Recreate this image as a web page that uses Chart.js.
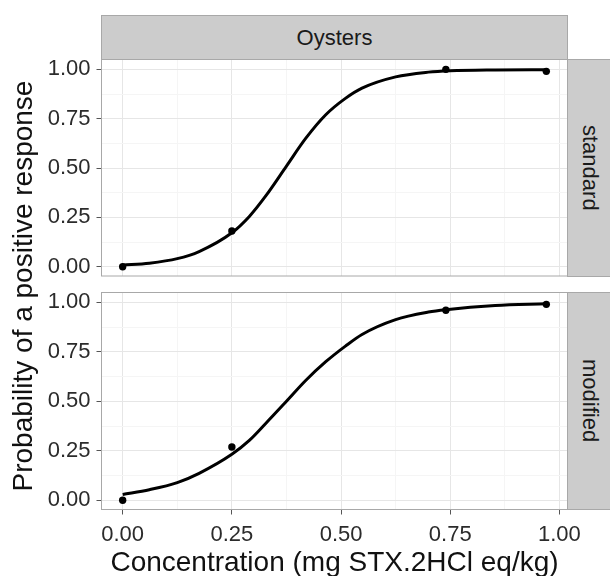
<!DOCTYPE html>
<html>
<head>
<meta charset="utf-8">
<script src="https://cdn.jsdelivr.net/npm/chart.js@4.4.1/dist/chart.umd.min.js"></script>
<style>
  html, body { margin: 0; padding: 0; background: #fff; }
  #wrap { position: relative; width: 610px; height: 576px; overflow: hidden; font-family: "Liberation Sans", Arial, sans-serif; }
  canvas { position: absolute; left: 0; }
  .strip { position: absolute; box-sizing: border-box; background: #cccccc; border: 1px solid #a8a8a8;
           display: flex; align-items: center; justify-content: center; color: #1a1a1a; font-size: 22px; }
  .strip.side { writing-mode: vertical-rl; }
  .title { position: absolute; color: #111; font-size: 28px; line-height: 28px; text-align: center; white-space: nowrap; }
</style>
</head>
<body>
<div id="wrap">
  <canvas id="standard-chart" width="610" height="225" style="top:55px"></canvas>
  <canvas id="modified-chart" width="610" height="288" style="top:288px"></canvas>
  <div class="strip" id="col-strip" style="left:101px; top:15px; width:467px; height:45px;"></div>
  <div class="strip side" id="row-strip-0" style="left:567px; top:59px; width:46px; height:218px;"></div>
  <div class="strip side" id="row-strip-1" style="left:567px; top:292px; width:46px; height:218px;"></div>
  <div class="title" id="x-title" style="left:101px; top:548px; width:467px;"></div>
  <div class="title" id="y-title" style="left:-202px; top:272px; width:450px; height:28px; transform:rotate(-90deg);"></div>
</div>
<script>
// facets and titles
const facetColumn = 'Oysters';
const facetRows = ['standard', 'modified'];
const xTitle = 'Concentration (mg STX.2HCl eq/kg)';
const yTitle = 'Probability of a positive response';

// observed points
const concentrations = [0, 0.25, 0.74, 0.97];
const standardObserved = [0, 0.181, 1.0, 0.99];
const modifiedObserved = [0, 0.269, 0.96, 0.99];

// fitted curves
const standardCurveX = [0, 0.061, 0.125, 0.175, 0.25, 0.29, 0.328, 0.375, 0.419, 0.465, 0.51, 0.548, 0.625, 0.70, 0.75, 0.853, 0.97];
const standardCurveY = [0.008, 0.018, 0.041, 0.077, 0.172, 0.255, 0.36, 0.51, 0.65, 0.77, 0.853, 0.905, 0.962, 0.986, 0.993, 0.997, 0.998];
const modifiedCurveX = [0, 0.061, 0.125, 0.175, 0.25, 0.29, 0.328, 0.375, 0.419, 0.465, 0.51, 0.548, 0.625, 0.70, 0.74, 0.853, 0.97];
const modifiedCurveY = [0.029, 0.053, 0.089, 0.136, 0.232, 0.302, 0.389, 0.50, 0.605, 0.70, 0.779, 0.838, 0.913, 0.951, 0.963, 0.984, 0.993];

// ticks
const xMajorTicks = [0, 0.25, 0.5, 0.75, 1];
const xMinorTicks = [0.125, 0.375, 0.625, 0.875];
const xTickLabels = ['0.00', '0.25', '0.50', '0.75', '1.00'];
const yMajorTicks = [0, 0.25, 0.5, 0.75, 1];
const yMinorTicks = [0.125, 0.375, 0.625, 0.875];
const yTickLabels = ['0.00', '0.25', '0.50', '0.75', '1.00'];

document.getElementById('col-strip').textContent = facetColumn;
document.getElementById('row-strip-0').textContent = facetRows[0];
document.getElementById('row-strip-1').textContent = facetRows[1];
document.getElementById('x-title').textContent = xTitle;
document.getElementById('y-title').textContent = yTitle;

const tickFont = { family: 'Liberation Sans', size: 22 };
const tickColor = '#2b2b2b';

function allTicks(major, minor) {
    return major.concat(minor).sort((a, b) => a - b).map(v => ({ value: v }));
}

const gridColor = (major) => ctx => major.includes(ctx.tick.value) ? '#e6e6e6' : '#f5f5f5';
const markColor = (major) => ctx => major.includes(ctx.tick.value) ? '#555555' : 'rgba(0,0,0,0)';

const panelBorder = {
    id: 'panelBorder',
    afterDraw(chart) {
        const { ctx, chartArea: a } = chart;
        ctx.save();
        ctx.strokeStyle = '#a8a8a8';
        ctx.lineWidth = 1;
        ctx.strokeRect(a.left, a.top, a.right - a.left, a.bottom - a.top);
        ctx.restore();
    }
};

function panelData(curveX, curveY, observed) {
    return {
        datasets: [{
            type: 'line',
            data: curveX.map((x, i) => ({ x: x, y: curveY[i] })),
            borderColor: '#000',
            borderWidth: 3,
            pointRadius: 0,
            fill: false,
            cubicInterpolationMode: 'monotone'
        }, {
            type: 'scatter',
            data: concentrations.map((x, i) => ({ x: x, y: observed[i] })),
            backgroundColor: '#000',
            borderColor: '#000',
            pointRadius: 3.7,
            borderWidth: 0
        }]
    };
}

function panelOptions(showX, padding, xHeight) {
    return {
        responsive: false,
        animation: false,
        events: [],
        layout: { padding: padding },
        plugins: { legend: { display: false }, tooltip: { enabled: false } },
        scales: {
            x: {
                type: 'linear',
                min: -0.0485,
                max: 1.0185,
                afterBuildTicks: s => { s.ticks = allTicks(xMajorTicks, xMinorTicks); },
                afterFit: s => {
                    s.height = xHeight;
                    s.paddingLeft = 0;
                    s.paddingRight = 0;
                },
                border: { display: false },
                grid: { color: gridColor(xMajorTicks), tickColor: markColor(xMajorTicks), drawTicks: showX, tickLength: 5 },
                ticks: {
                    display: showX,
                    autoSkip: false,
                    maxRotation: 0,
                    padding: 7,
                    font: tickFont,
                    color: tickColor,
                    callback: v => xMajorTicks.includes(v) ? xTickLabels[xMajorTicks.indexOf(v)] : ''
                }
            },
            y: {
                type: 'linear',
                min: -0.047,
                max: 1.05,
                afterBuildTicks: s => { s.ticks = allTicks(yMajorTicks, yMinorTicks); },
                afterFit: s => {
                    s.width = 101.5;
                    s.paddingTop = 0;
                    s.paddingBottom = 0;
                },
                border: { display: false },
                grid: { color: gridColor(yMajorTicks), tickColor: markColor(yMajorTicks), tickLength: 5 },
                ticks: {
                    autoSkip: false,
                    padding: 6,
                    font: tickFont,
                    color: tickColor,
                    callback: v => yMajorTicks.includes(v) ? yTickLabels[yMajorTicks.indexOf(v)] : ''
                }
            }
        }
    };
}

const standardChart = new Chart(document.getElementById('standard-chart'), {
    type: 'scatter',
    data: panelData(standardCurveX, standardCurveY, standardObserved),
    options: panelOptions(false, { top: 4.5, right: 42.5, bottom: 3.5, left: 0 }, 0),
    plugins: [panelBorder]
});

const modifiedChart = new Chart(document.getElementById('modified-chart'), {
    type: 'scatter',
    data: panelData(modifiedCurveX, modifiedCurveY, modifiedObserved),
    options: panelOptions(true, { top: 4.5, right: 42.5, bottom: 0, left: 0 }, 66.5),
    plugins: [panelBorder]
});
</script>
</body>
</html>
